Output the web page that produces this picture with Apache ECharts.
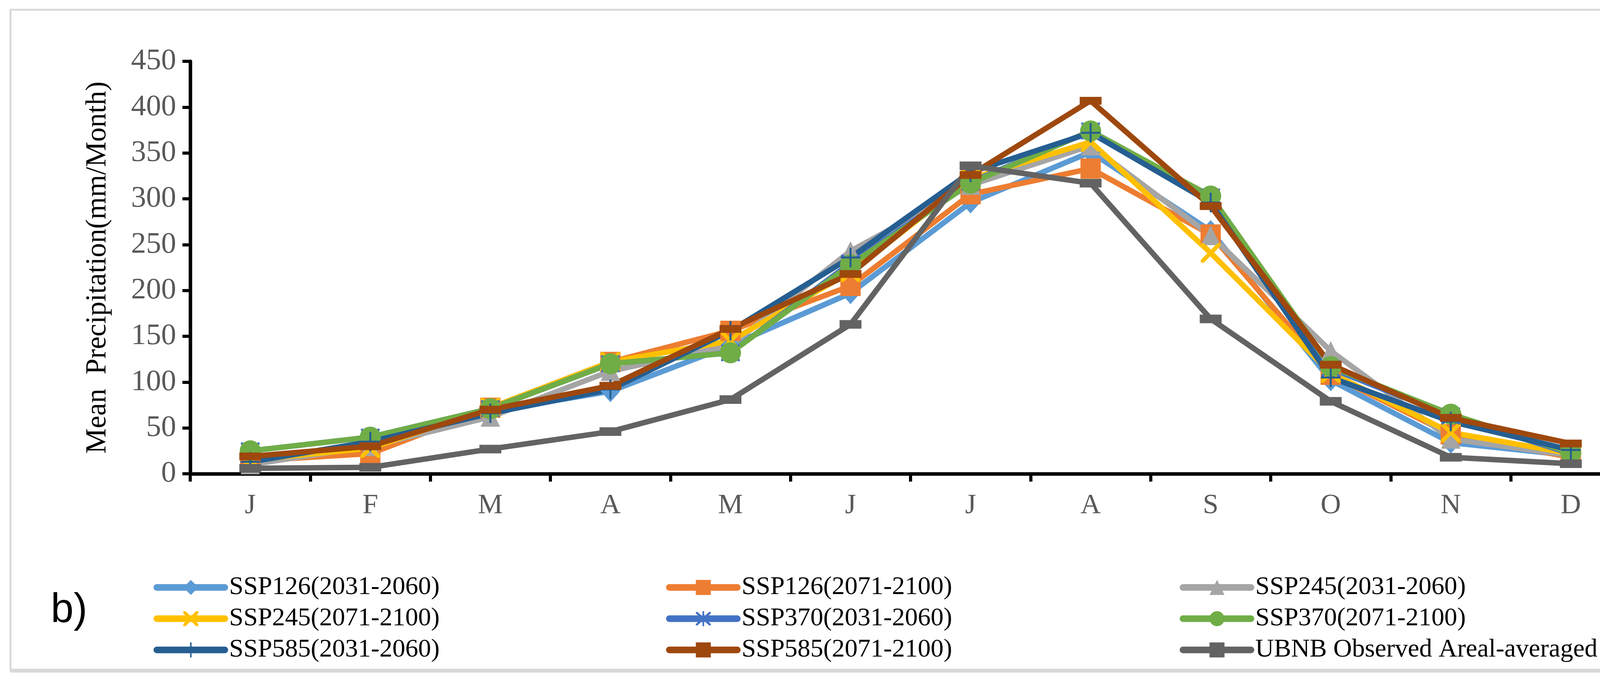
<!DOCTYPE html>
<html>
<head>
<meta charset="utf-8">
<script src="https://cdn.jsdelivr.net/npm/echarts@6/dist/echarts.min.js"></script>
<style>
html,body{margin:0;padding:0;background:#fff;}
#chart{width:4278px;height:1741px;}
</style>
</head>
<body>
<div id="chart"></div>
<script>
const months = ['J','F','M','A','M','J','J','A','S','O','N','D'];
const yTicks = [0, 450, 50];
const ssp126_2031 = [12, 30, 68, 90, 140, 197, 296, 351, 265, 102, 34, 20];
const ssp126_2071 = [14, 22, 72, 122, 156, 205, 305, 333, 261, 108, 43, 18];
const ssp245_2031 = [10, 30, 62, 112, 140, 243, 315, 358, 260, 134, 38, 20];
const ssp245_2071 = [15, 28, 72, 122, 145, 220, 322, 362, 241, 110, 45, 22];
const ssp370_2031 = [25, 40, 71, 120, 132, 230, 318, 374, 302, 115, 63, 22];
const ssp370_2071 = [25, 40, 71, 120, 132, 228, 317, 374, 303, 117, 65, 23];
const ssp585_2031 = [13, 35, 66, 92, 156, 236, 329, 372, 296, 105, 57, 26];
const ssp585_2071 = [19, 30, 70, 96, 158, 218, 326, 407, 292, 119, 61, 33];
const observed    = [6, 7, 27, 46, 81, 163, 336, 317, 169, 79, 18, 11];
const names = ['SSP126(2031-2060)','SSP126(2071-2100)','SSP245(2031-2060)','SSP245(2071-2100)','SSP370(2031-2060)','SSP370(2071-2100)','SSP585(2031-2060)','SSP585(2071-2100)','UBNB Observed Areal-averaged'];

const X_PATH = 'path://M0,0 L3,0 L10,7 L17,0 L20,0 L20,3 L13,10 L20,17 L20,20 L17,20 L10,13 L3,20 L0,20 L0,17 L7,10 L0,3 Z';
const PLUS_PATH = 'path://M9,0 L11,0 L11,9 L20,9 L20,11 L11,11 L11,20 L9,20 L9,11 L0,11 L0,9 L9,9 Z';
const STAR_PATH = 'path://M1,1 L3,1 L10,8 L17,1 L19,1 L19,3 L12,10 L19,17 L19,19 L17,19 L10,12 L3,19 L1,19 L1,17 L8,10 L1,3 Z M9,0 L11,0 L11,20 L9,20 Z';

const font = 'Liberation Serif';
function mk(name, data, color, symbol, size) {
  return {
    name, type: 'line', data,
    symbol, symbolSize: size, showSymbol: true,
    lineStyle: {color, width: 14},
    itemStyle: {color, borderWidth: 0},
    emphasis: {disabled: true},
    animation: false
  };
}
const series = [
  mk(names[0], ssp126_2031, '#5B9BD5', 'diamond', [50, 56]),
  mk(names[1], ssp126_2071, '#ED7D31', 'rect', 52),
  mk(names[2], ssp245_2031, '#A5A5A5', 'triangle', 50),
  mk(names[3], ssp245_2071, '#FFC000', X_PATH, 50),
  mk(names[4], ssp370_2031, '#4472C4', STAR_PATH, 48),
  mk(names[5], ssp370_2071, '#70AD47', 'circle', 54),
  mk(names[6], ssp585_2031, '#255E91', PLUS_PATH, 50),
  mk(names[7], ssp585_2071, '#9E480E', 'rect', [56, 20]),
  mk(names[8], observed,    '#636363', 'rect', [56, 22])
];

function legendCol(left, data) {
  return {
    orient: 'vertical', left, top: 1466, height: 270,
    itemWidth: 174, itemHeight: 48, itemGap: 14,
    data,
    lineStyle: {width: 17, cap: 'round'},
    textStyle: {fontFamily: font, fontSize: 66, lineHeight: 62, color: '#000', padding: [0,0,0,6]},
    selectedMode: false
  };
}

const chart = echarts.init(document.getElementById('chart'));
chart.setOption({
  backgroundColor: '#fff',
  animation: false,
  grid: {left: 487, top: 157, width: 3688, height: 1056, containLabel: false},
  xAxis: {
    type: 'category', data: months, boundaryGap: true,
    axisLine: {lineStyle: {color: '#000', width: 9}},
    axisTick: {show: true, length: 20, lineStyle: {color: '#000', width: 8}},
    axisLabel: {fontFamily: font, fontSize: 72, color: '#595959', margin: 46}
  },
  yAxis: {
    type: 'value', min: yTicks[0], max: yTicks[1], interval: yTicks[2],
    name: 'Mean  Precipitation(mm/Month)', nameLocation: 'middle', nameGap: 200,
    nameTextStyle: {fontFamily: font, fontSize: 73, color: '#000'},
    splitLine: {show: false},
    axisLine: {show: true, lineStyle: {color: '#000', width: 9}},
    axisTick: {show: true, length: 20, lineStyle: {color: '#000', width: 8}},
    axisLabel: {fontFamily: font, fontSize: 77, color: '#595959', margin: 36}
  },
  legend: [
    legendCol(388, [names[0], names[3], names[6]]),
    legendCol(1700, [names[1], names[4], names[7]]),
    legendCol(3015, [names[2], names[5], names[8]])
  ],
  graphic: [
    {type: 'rect', shape: {x: 27, y: 25, width: 4233, height: 1692}, style: {fill: 'none', stroke: '#D9D9D9', lineWidth: 5}, z: -1},
    {type: 'line', shape: {x1: 27, y1: 1717, x2: 4260, y2: 1717}, style: {stroke: '#D9D9D9', lineWidth: 10}, z: -1},
    {type: 'text', x: 130, y: 1564, style: {text: 'b)', font: '105px "Liberation Sans"', fill: '#000', verticalAlign: 'middle', align: 'left'}}
  ],
  series
});
</script>
</body>
</html>
